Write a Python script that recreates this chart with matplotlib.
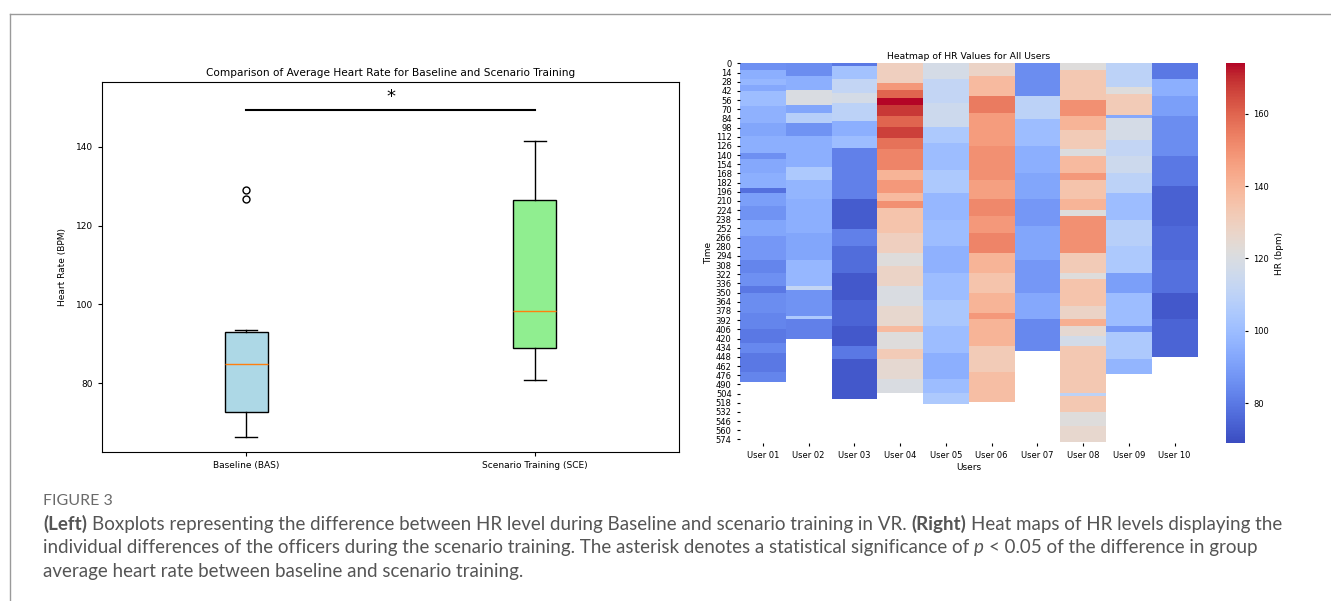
import numpy as np
import matplotlib
matplotlib.use("Agg")
import matplotlib.pyplot as plt
import seaborn as sns

W, H = 1331, 601

# boxplot summary (BPM)
groups = ["Baseline (BAS)", "Scenario Training (SCE)"]
whislo = [66.3, 80.7]
q1 = [72.6, 88.9]
med = [84.8, 98.3]
q3 = [93.1, 126.5]
whishi = [93.5, 141.5]
fliers = [[126.9, 129.0], []]
box_colors = ["lightblue", "lightgreen"]
sig_y = 149.5

# heatmap: per user, row where each band starts and its HR value
users = ["User %02d" % i for i in range(1, 11)]
n_rows = 580
user_len = [487, 422, 513, 503, 521, 517, 439, 579, 475, 448]
seg_start = [
    [0, 10, 25, 33, 43, 66, 92, 112, 137, 147, 168, 191, 198, 218, 239, 264, 300, 320, 340, 351, 381, 406, 427, 442, 472],
    [0, 20, 41, 64, 76, 92, 112, 158, 178, 208, 259, 300, 340, 346, 386, 391],
    [0, 5, 25, 46, 61, 89, 112, 130, 208, 254, 280, 320, 361, 401, 432, 452],
    [0, 30, 41, 53, 64, 81, 97, 114, 132, 163, 178, 198, 211, 221, 259, 290, 310, 340, 371, 401, 411, 437, 452, 483],
    [0, 25, 61, 97, 122, 163, 198, 239, 280, 320, 361, 401, 442, 483, 503],
    [0, 20, 51, 76, 127, 178, 208, 234, 259, 290, 320, 351, 381, 391, 432, 472],
    [0, 51, 86, 127, 168, 208, 249, 300, 351, 391],
    [0, 10, 56, 81, 102, 132, 142, 168, 178, 208, 224, 234, 290, 320, 330, 371, 391, 401, 417, 432, 503, 508, 533, 554],
    [0, 36, 48, 79, 84, 117, 142, 168, 198, 239, 280, 320, 351, 401, 411, 452],
    [0, 25, 51, 81, 142, 188, 249, 300, 351, 391],
]
seg_hr = [
    [86, 95, 98, 93, 100, 96, 92, 95, 86, 93, 95, 78, 90, 87, 92, 88, 83, 86, 80, 85, 83, 80, 84, 80, 83],
    [85, 95, 120, 92, 108, 87, 95, 105, 97, 95, 92, 98, 112, 87, 105, 82],
    [80, 102, 112, 118, 110, 95, 100, 82, 73, 82, 77, 72, 75, 72, 80, 72],
    [130, 148, 160, 174, 168, 160, 167, 157, 153, 140, 148, 138, 150, 135, 130, 122, 128, 120, 126, 138, 122, 132, 125, 120],
    [118, 112, 115, 105, 100, 105, 98, 100, 96, 100, 104, 100, 95, 100, 105],
    [128, 138, 155, 147, 150, 146, 152, 148, 153, 140, 135, 140, 148, 140, 132, 137],
    [85, 110, 100, 95, 92, 88, 92, 88, 93, 84],
    [122, 133, 150, 140, 132, 121, 138, 148, 135, 140, 122, 150, 132, 122, 135, 128, 142, 125, 117, 133, 110, 133, 122, 126],
    [110, 122, 132, 93, 118, 112, 115, 110, 100, 108, 105, 90, 100, 88, 105, 97],
    [80, 95, 90, 85, 80, 74, 76, 78, 72, 75],
]

caption_head = "FIGURE 3"
caption_lines = [
    [("(Left)", "bold", "normal"),
     ("Boxplots representing the difference between HR level during Baseline and scenario training in VR.", "normal", "normal"),
     ("(Right)", "bold", "normal"),
     ("Heat maps of HR levels displaying the", "normal", "normal")],
    [("individual differences of the officers during the scenario training. The asterisk denotes a statistical significance of", "normal", "normal"),
     ("p", "normal", "italic"),
     ("< 0.05 of the difference in group", "normal", "normal")],
    [("average heart rate between baseline and scenario training.", "normal", "normal")],
]

fig = plt.figure(figsize=(W / 100, H / 100), dpi=100)

def box(x0, y0, x1, y1):
    return [x0 / W, 1 - y1 / H, (x1 - x0) / W, (y1 - y0) / H]

# outer frame lines
fig.add_artist(plt.Line2D([10 / W, 1], [1 - 14 / H] * 2, color="#9a9a9a", lw=1))
fig.add_artist(plt.Line2D([10 / W] * 2, [1 - 14 / H, 0], color="#9a9a9a", lw=1))

# ---- left: boxplot
ax = fig.add_axes(box(102, 82, 679, 452))
stats = []
for i in range(len(groups)):
    stats.append(dict(whislo=whislo[i], q1=q1[i], med=med[i], q3=q3[i],
                      whishi=whishi[i], fliers=fliers[i], label=groups[i]))
bp = ax.bxp(stats, positions=[1, 2], widths=0.15, patch_artist=True,
            medianprops=dict(color="C1", lw=1),
            flierprops=dict(marker="o", markerfacecolor="none", markeredgecolor="black", markersize=5))
for patch, c in zip(bp["boxes"], box_colors):
    patch.set_facecolor(c)
ax.plot([1, 2], [sig_y, sig_y], color="black", lw=1.5)
ax.text(1.5, sig_y + 3.2, "*", ha="center", va="center", fontsize=13)
ax.set_xlim(0.5, 2.5)
ax.set_ylim(62.5, 156.5)
ax.set_yticks([80, 100, 120, 140])
ax.set_title("Comparison of Average Heart Rate for Baseline and Scenario Training", fontsize=7.6, pad=4)
ax.set_ylabel("Heart Rate (BPM)", fontsize=6.5, labelpad=6)
ax.tick_params(labelsize=6.5, length=3)

# ---- right: heatmap
hr = np.full((n_rows, len(users)), np.nan)
for j in range(len(users)):
    starts = seg_start[j] + [user_len[j]]
    for k, v in enumerate(seg_hr[j]):
        hr[starts[k]:starts[k + 1], j] = v

hax = fig.add_axes(box(740, 63, 1197.5, 443))
cax = fig.add_axes(box(1226, 63, 1245, 443))
sns.heatmap(hr, ax=hax, cbar_ax=cax, cmap="coolwarm", vmin=69, vmax=174,
            xticklabels=users, yticklabels=False, cbar_kws={"label": "HR (bpm)"})
ticks = np.arange(0, n_rows, 14)
hax.set_yticks(ticks + 0.5)
hax.set_yticklabels([str(t) for t in ticks], rotation=0)
hax.set_xticklabels(users, rotation=0)
hax.tick_params(labelsize=6, length=2.5)
hax.set_title("Heatmap of HR Values for All Users", fontsize=6.7, pad=3)
hax.set_xlabel("Users", fontsize=6.5, labelpad=2)
hax.set_ylabel("Time", fontsize=6.5, labelpad=2)
cax.set_yticks([80, 100, 120, 140, 160])
cax.tick_params(labelsize=6, length=2.5)
cax.yaxis.label.set_size(6.5)

# ---- caption
cap_font = dict(family="Lato", fontsize=13.5, color="#555555")
fig.text(43 / W, 1 - 505 / H, caption_head, family="Lato", fontsize=11.5, color="#6a6a6a", va="baseline")
renderer = fig.canvas.get_renderer()
probe = fig.text(0, 0, "a a", **cap_font)
w_sp = probe.get_window_extent(renderer).width
probe.set_text("aa")
w_sp -= probe.get_window_extent(renderer).width
probe.remove()
for y, runs in zip([530, 553.5, 577], caption_lines):
    x = 43
    for txt, weight, style in runs:
        t = fig.text(x / W, 1 - y / H, txt, fontweight=weight, style=style, va="baseline", **cap_font)
        x += t.get_window_extent(renderer).width + w_sp

fig.savefig("out.png", dpi=100)
